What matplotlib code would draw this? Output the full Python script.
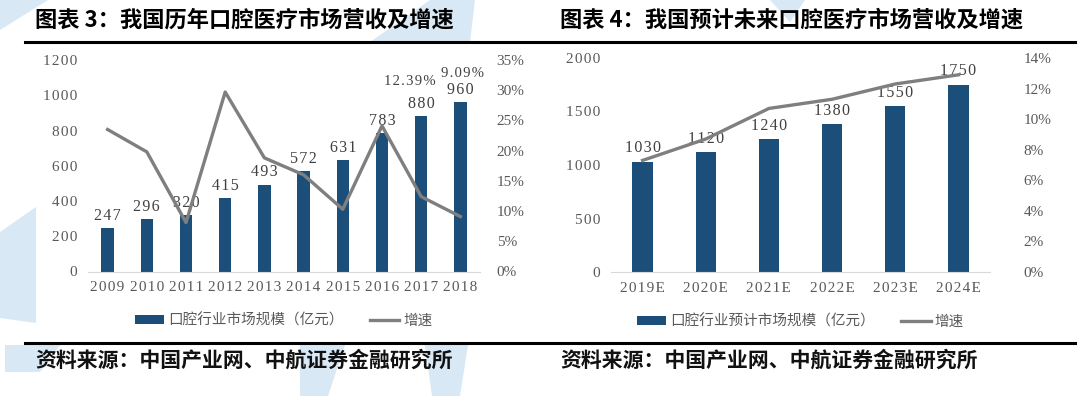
import matplotlib
matplotlib.use("Agg")
from matplotlib import pyplot as plt
from matplotlib.lines import Line2D
from matplotlib.patches import Polygon
from matplotlib.ticker import FuncFormatter

plt.rcParams['font.family'] = ['Noto Sans CJK SC', 'DejaVu Sans']

# chart 3: historical market size and growth
years_hist = ['2009', '2010', '2011', '2012', '2013', '2014', '2015', '2016', '2017', '2018']
size_hist = [247, 296, 320, 415, 493, 572, 631, 783, 880, 960]
growth_hist = [23.5, 19.8, 8.1, 29.7, 18.8, 16.0, 10.3, 24.1, 12.39, 9.09]
growth_hist_labels = {8: '12.39%', 9: '9.09%'}

# chart 4: forecast market size and growth
years_fc = ['2019E', '2020E', '2021E', '2022E', '2023E', '2024E']
size_fc = [1030, 1120, 1240, 1380, 1550, 1750]
growth_fc = [7.3, 8.7, 10.7, 11.3, 12.3, 12.9]

BAR = '#1b4f79'
LINE = '#7f7f7f'
TICK = '#595959'
LABEL = '#404040'
SERIF = ['Liberation Serif', 'DejaVu Serif']
W, H = 1080, 396


def fx(px):
    return px / W


def fy(py):
    return 1 - py / H


def spaced(s):
    # the source font is letter-spaced; hair spaces imitate that
    return '\u200a'.join(s)


def draw_chart(ax, cats, sizes, growth, ymax, ystep, gmax, gstep, legend_name,
               right_pad, label_off):
    x = range(len(cats))
    ax.set_facecolor('none')
    bars = ax.bar(x, sizes, width=0.32, color=BAR, label=legend_name, zorder=2)
    for i, v in enumerate(sizes):
        ax.annotate(spaced(str(v)), (i, v), xytext=(0, label_off),
                    textcoords='offset points', ha='center', va='bottom',
                    fontsize=11.5, color=LABEL, family=SERIF, zorder=1)
    ax.set_xlim(-0.5, len(cats) - 0.5)
    ax.set_ylim(0, ymax)
    ax.set_yticks(range(0, ymax + 1, ystep))
    ax.yaxis.set_major_formatter(FuncFormatter(lambda v, p: spaced(f"{v:.0f}")))
    ax.set_xticks(list(x))
    ax.set_xticklabels([spaced(c) for c in cats])
    ax.tick_params(length=0, colors=TICK, labelsize=11)
    ax.tick_params(axis='y', pad=8)
    ax.tick_params(axis='x', pad=7)
    for lab in ax.get_xticklabels() + ax.get_yticklabels():
        lab.set_family(SERIF)
    for s in ['top', 'left', 'right']:
        ax.spines[s].set_visible(False)
    ax.spines['bottom'].set_color('#d9d9d9')

    ax2 = ax.twinx()
    line, = ax2.plot(list(x), growth, color=LINE, lw=2.4, label='增速', zorder=3)
    ax2.set_ylim(0, gmax)
    ax2.set_yticks([i * gstep for i in range(int(round(gmax / gstep)) + 1)])
    ax2.yaxis.set_major_formatter(FuncFormatter(lambda v, p: f"{v:.0f}%"))
    ax2.tick_params(length=0, colors=TICK, labelsize=11, pad=right_pad)
    for lab in ax2.get_yticklabels():
        lab.set_family(SERIF)
    for s in ax2.spines.values():
        s.set_visible(False)

    leg = ax.legend([bars, line], [legend_name, '增速'], loc='center',
                    bbox_to_anchor=(0.5, -0.23), ncol=2, frameon=False,
                    fontsize=10.5, handlelength=2.0, handleheight=0.55,
                    columnspacing=1.8, handletextpad=0.3)
    for t in leg.get_texts():
        t.set_color(TICK)
    return ax2


fig = plt.figure(figsize=(10.8, 3.96), dpi=100)

# light watermark shapes in the background
wm = '#d8e8f5'
for poly in [
    [(0, 0), (48, 0), (0, 30)],
    [(0, 232), (36, 207), (36, 323), (0, 318)],
    [(5, 345), (60, 345), (40, 372), (5, 372)],
    [(430, 0), (475, 0), (470, 42), (370, 42)],
    [(770, 0), (805, 0), (790, 22)],
    [(300, 345), (345, 345), (328, 396), (300, 396)],
    [(425, 345), (468, 345), (460, 396), (432, 396)],
]:
    fig.add_artist(Polygon([(fx(a), fy(b)) for a, b in poly], closed=True,
                           facecolor=wm, edgecolor='none', zorder=0))

ax_l = fig.add_axes([fx(88), fy(271.5), fx(480 - 88), (271.5 - 60) / H])
ax_r = fig.add_axes([fx(611), fy(272), fx(990 - 611), (272 - 58) / H])

ax_l2 = draw_chart(ax_l, years_hist, size_hist, growth_hist, 1200, 200, 35, 5,
                   '口腔行业市场规模（亿元）', 12, 3)
ax_r2 = draw_chart(ax_r, years_fc, size_fc, growth_fc, 2000, 500, 14, 2,
                   '口腔行业预计市场规模（亿元）', 24, 4)

# growth labels for the last two years of chart 3, set high above the bars
label_place = {8: (-0.3, 0.90), 9: (0.05, 0.934)}
for i, txt in growth_hist_labels.items():
    dx, ypos = label_place[i]
    ax_l.text(i + dx, ypos, spaced(txt), transform=ax_l.get_xaxis_transform(),
              ha='center', va='center', fontsize=10.5, color=LABEL, family=SERIF)

# titles, rules and sources
fig.text(fx(35), fy(20), '图表 3：我国历年口腔医疗市场营收及增速', fontsize=16,
         fontweight='bold', va='center', ha='left', color='black')
fig.text(fx(560), fy(20), '图表 4：我国预计未来口腔医疗市场营收及增速', fontsize=16,
         fontweight='bold', va='center', ha='left', color='black')
for yline in (42, 343):
    fig.add_artist(Line2D([fx(25), fx(1075)], [fy(yline), fy(yline)],
                          color='black', lw=2.2))
fig.text(fx(35), fy(360), '资料来源：中国产业网、中航证券金融研究所', fontsize=15,
         fontweight='bold', va='center', ha='left', color='#111111')
fig.text(fx(560), fy(360), '资料来源：中国产业网、中航证券金融研究所', fontsize=15,
         fontweight='bold', va='center', ha='left', color='#111111')

fig.savefig('out.png', dpi=100)
